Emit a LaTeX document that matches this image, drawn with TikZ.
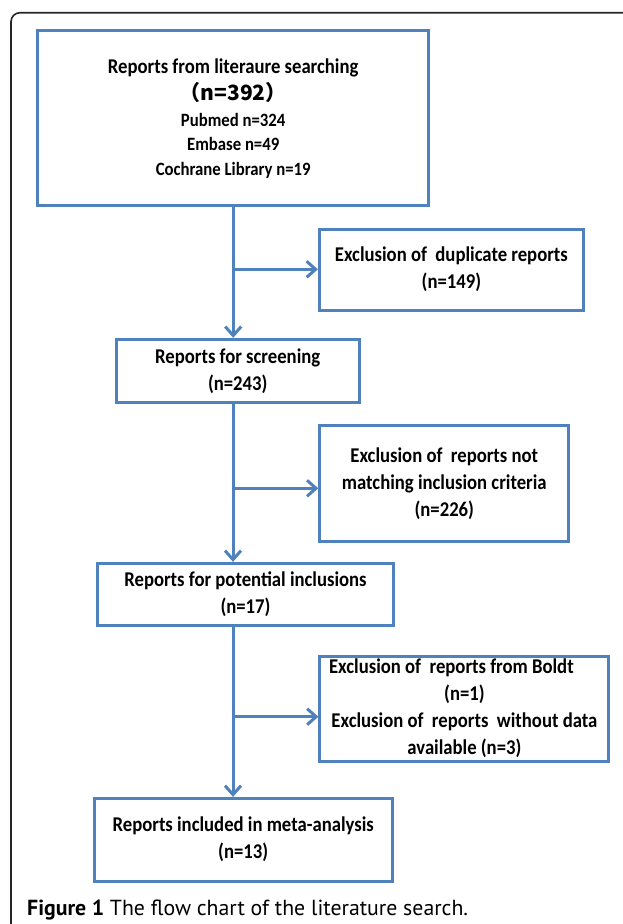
\documentclass[tikz,border=0pt]{standalone}
\usepackage{fontspec}
\setmainfont[FakeStretch=0.89]{Carlito}
\newfontfamily\capfont{PT Sans}
\newfontfamily\cjk{Noto Sans CJK SC}
\usepackage{tikz}
\usepackage{xcolor}
\usetikzlibrary{arrows.meta}
\definecolor{flowblue}{HTML}{4F81BD}
\newcommand{\boxfont}{\bfseries\fontsize{21}{27}\selectfont}
\newcommand{\smallline}{\fontsize{18.8}{24}\selectfont}

\begin{document}
\begin{tikzpicture}[x=1pt,y=-1pt,
  box/.style={draw=flowblue,line width=3pt,align=center,inner sep=0pt,font=\boxfont},
  link/.style={draw=flowblue,line width=3pt,-{Straight Barb[length=9pt,width=16pt]}}]
\useasboundingbox (0,0) rectangle (622,924);
\draw[line width=1.6pt,rounded corners=9pt,black!85] (11,960) -- (11,12.7) -- (660,12.7);
\node[box,minimum width=391pt,minimum height=175pt] (search) at (233.2,118.4)
  {Reports from literaure searching\\ \cjk{（}n=392\cjk{）}\\[-1pt]
   {\smallline Pubmed n=324}\\[-3pt] {\smallline Embase n=49}\\[-2pt] {\smallline Cochrane Library n=19}};
\node[box,minimum width=264pt,minimum height=80.7pt] (dup) at (451.4,269.7)
  {Exclusion of~ duplicate reports\\ (n=149)};
\node[box,minimum width=242.8pt,minimum height=63.4pt] (screen) at (237.7,371)
  {Reports for screening\\ (n=243)};
\node[box,minimum width=249pt,minimum height=116.4pt] (notmatch) at (444.3,483.5)
  {Exclusion of~ reports not\\ matching inclusion criteria\\ (n=226)};
\node[box,minimum width=296.5pt,minimum height=61.7pt] (potential) at (245.5,594.2)
  {Reports for potential inclusions\\ (n=17)};
\node[box,minimum width=289pt,minimum height=105pt] (boldt) at (464.4,708.5)
  {Exclusion of~ reports from Boldt\hspace*{26pt}\\ (n=1)\hspace*{54pt}\\
   Exclusion of~ reports~ without data\\ available (n=3)};
\node[box,minimum width=297.6pt,minimum height=82.7pt] (included) at (243.2,839.7)
  {Reports included in meta-analysis\\ (n=13)};
% trunk and side branches
\coordinate (j1) at (233,269.3);
\coordinate (j2) at (233,488.3);
\coordinate (j3) at (233,716.7);
\draw[link] (search.south) -- (search.south |- screen.north);
\draw[link] (j1) -- (j1 -| dup.west);
\draw[link] (screen.south -| j1) -- (potential.north -| j1);
\draw[link] (j2) -- (j2 -| notmatch.west);
\draw[link] (potential.south -| j1) -- (included.north -| j1);
\draw[link] (j3) -- (j3 -| boldt.west);
\node[anchor=base west,inner sep=0pt,font=\capfont\fontsize{21.8}{26}\selectfont] (caption) at (27,915.3)
  {\textbf{Figure 1} The flow chart of the literature search.};
\end{tikzpicture}
\end{document}
